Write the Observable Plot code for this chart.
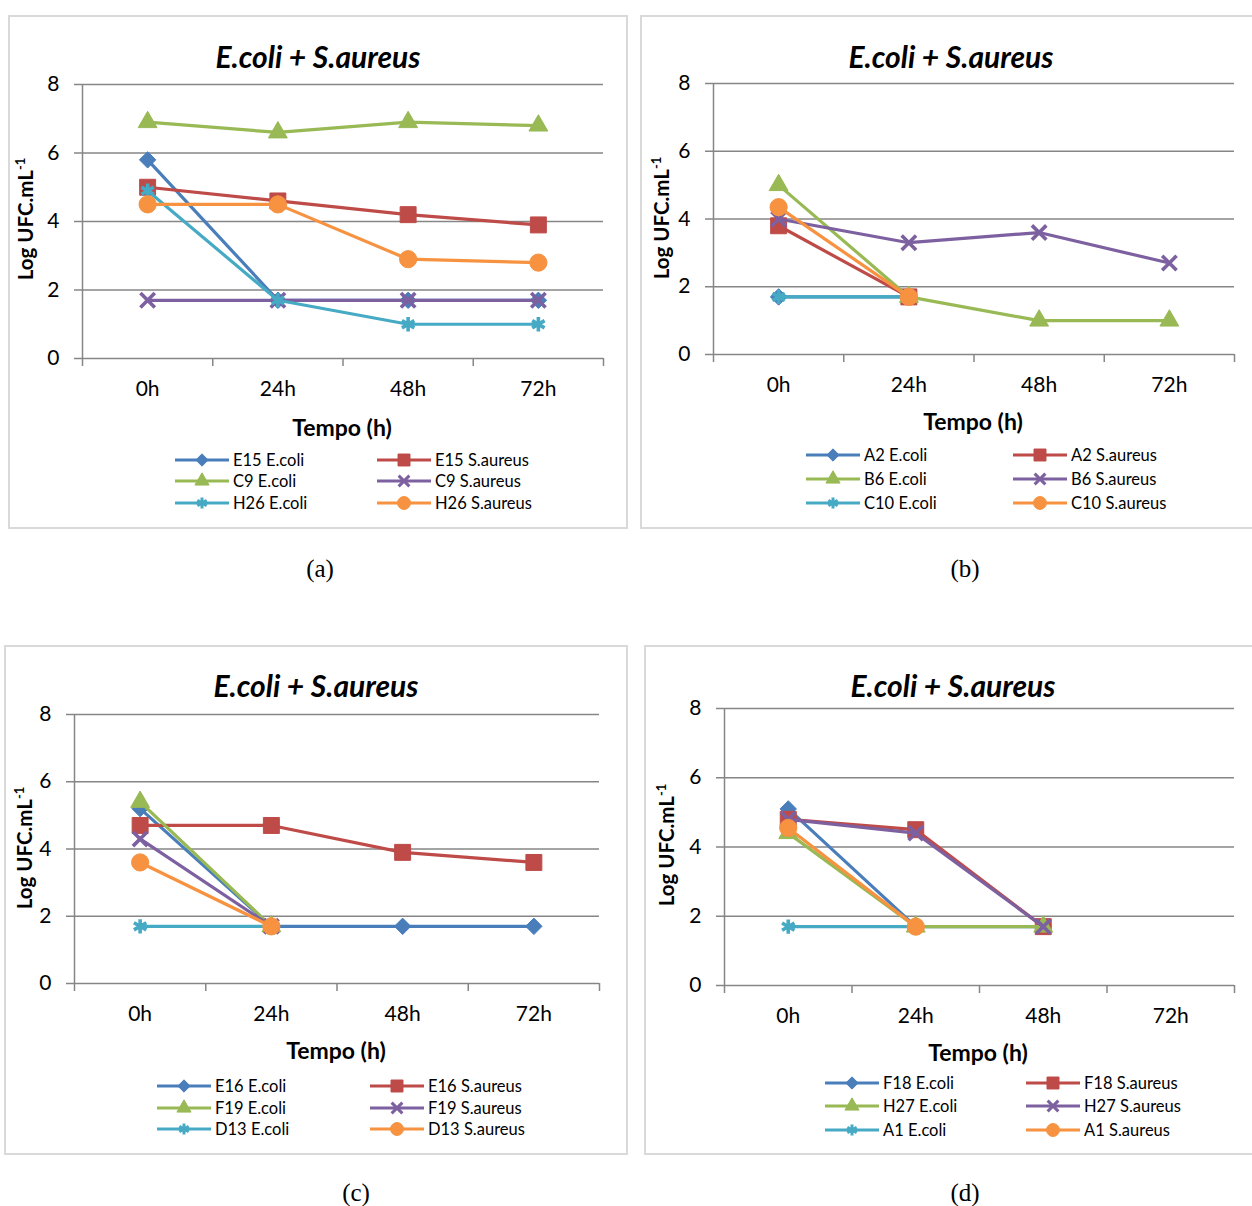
<!DOCTYPE html>
<html><head><meta charset="utf-8">
<script src="https://cdn.jsdelivr.net/npm/d3@7"></script>
<script src="https://cdn.jsdelivr.net/npm/@observablehq/plot@0.6"></script>
<style>
body{margin:0;width:1252px;height:1206px;position:relative;background:#fff;font-family:Lato,sans-serif;overflow:hidden}
.box{position:absolute;border:2px solid #d9d9d9;box-sizing:border-box}
.abs{position:absolute;white-space:nowrap;line-height:1}
.title{font-weight:bold;font-style:italic;font-size:30px;transform:translate(-50%,-50%)}
.ylab{font-weight:bold;font-size:20.5px;transform:translate(-50%,-50%) rotate(-90deg)}
.ylab sup{font-size:13px;vertical-align:8px}
.xlab{font-weight:bold;font-size:23px;transform:translate(-50%,-50%)}
.leg{font-size:16.5px;transform:translateY(-50%)}
.cap{font-family:"Liberation Serif",serif;font-size:25px;transform:translate(-50%,-50%)}
.plot{position:absolute}
</style></head><body><div id="root"></div>
<script>
const times = ["0h","24h","48h","72h"];
const yTicks = [0,2,4,6,8];
const colors = ["#4A7EBB","#BE4B48","#98B954","#7D60A0","#46AAC5","#F69240"];
const symbols = ["diamond2","square","triangle","times","asterisk","circle"];
const radii = [7.4,9,7,6.6,6.8,8.6];
const title = "E.coli + S.aureus";
const xTitle = "Tempo (h)";

const namesA = ["E15 E.coli","E15 S.aureus","C9 E.coli","C9 S.aureus","H26 E.coli","H26 S.aureus"];
const valsA = [[5.8,1.7,1.7,1.7],[5.0,4.6,4.2,3.9],[6.9,6.6,6.9,6.8],[1.7,1.7,1.7,1.7],[4.9,1.7,1.0,1.0],[4.5,4.5,2.9,2.8]];

const namesB = ["A2 E.coli","A2 S.aureus","B6 E.coli","B6 S.aureus","C10 E.coli","C10 S.aureus"];
const valsB = [[1.7,1.7,null,null],[3.8,1.7,null,null],[5.0,1.7,1.0,1.0],[4.0,3.3,3.6,2.7],[1.7,1.7,null,null],[4.35,1.7,null,null]];

const namesC = ["E16 E.coli","E16 S.aureus","F19 E.coli","F19 S.aureus","D13 E.coli","D13 S.aureus"];
const valsC = [[5.2,1.7,1.7,1.7],[4.7,4.7,3.9,3.6],[5.4,1.7,null,null],[4.3,1.7,null,null],[1.7,1.7,null,null],[3.6,1.7,null,null]];

const namesD = ["F18 E.coli","F18 S.aureus","H27 E.coli","H27 S.aureus","A1 E.coli","A1 S.aureus"];
const valsD = [[5.1,1.7,1.7,null],[4.8,4.5,1.7,null],[4.4,1.7,1.7,null],[4.8,4.4,1.7,null],[1.7,1.7,null,null],[4.55,1.7,null,null]];

const panels = [
  {names:namesA, vals:valsA, box:[8,15,620,514], plot:[82,84,603,358], title:[318,56], ylab:[25,219], xlab:[342,427], legY:[460,481,503], legX:[175,377], cap:["(a)",320,568]},
  {names:namesB, vals:valsB, box:[640,15,640,514], plot:[713,83,1234,354], title:[951,56], ylab:[661,218], xlab:[973,421], legY:[455,479,503], legX:[806,1013], cap:["(b)",965,568]},
  {names:namesC, vals:valsC, box:[4,645,624,510], plot:[74,714,599,983], title:[316,685], ylab:[24,848], xlab:[336,1050], legY:[1086,1108,1129], legX:[157,370], cap:["(c)",356,1192]},
  {names:namesD, vals:valsD, box:[644,645,640,510], plot:[724,708,1234,985], title:[953,685], ylab:[666,845], xlab:[978,1052], legY:[1083,1106,1130], legX:[825,1026], cap:["(d)",965,1192]}
];

const grid = "#868686";
const d3sym = {diamond2:d3.symbolDiamond2, square:d3.symbolSquare, triangle:d3.symbolTriangle, times:d3.symbolTimes, asterisk:d3.symbolAsterisk, circle:d3.symbolCircle};
const strokeOnly = s => s === "times" || s === "asterisk";
const root = document.getElementById("root");

function add(cls, html, x, y) {
  const el = document.createElement("div");
  el.className = "abs " + cls;
  el.innerHTML = html;
  el.style.left = x + "px"; el.style.top = y + "px";
  root.appendChild(el);
  return el;
}

for (const p of panels) {
  const box = document.createElement("div");
  box.className = "box";
  box.style.left = p.box[0] + "px"; box.style.top = p.box[1] + "px";
  box.style.width = p.box[2] + "px"; box.style.height = p.box[3] + "px";
  root.appendChild(box);

  const [L, T, R, B] = p.plot;
  const mL = 70, mR = 10, mT = 10, mB = 50;
  const plotH = B - T;
  const marks = [
    Plot.ruleY(yTicks, {y: d => d, stroke: grid, strokeWidth: 1.5, insetLeft: -8}),
    Plot.ruleX([-0.5], {stroke: grid, strokeWidth: 1.5, insetBottom: -8}),
    Plot.ruleX([0.5,1.5,2.5,3.5], {stroke: grid, strokeWidth: 1.5, insetTop: plotH, insetBottom: -8})
  ];
  p.vals.forEach((vals, s) => {
    const data = vals.map((v, i) => ({i, v})).filter(d => d.v != null);
    const so = strokeOnly(symbols[s]);
    marks.push(Plot.line(data, {x: "i", y: "v", stroke: colors[s], strokeWidth: 3.2}));
    marks.push(Plot.dot(data, {x: "i", y: "v", symbol: symbols[s], r: radii[s],
      fill: so ? "none" : colors[s], stroke: colors[s], strokeWidth: so ? 3.6 : 1}));
  });
  const svg = Plot.plot({
    width: R - L + mL + mR, height: plotH + mT + mB,
    marginLeft: mL, marginRight: mR, marginTop: mT, marginBottom: mB,
    style: {fontFamily: "Lato, sans-serif", fontSize: "21px", color: "#000", background: "transparent", overflow: "visible"},
    x: {type: "linear", domain: [-0.5, 3.5], ticks: [0,1,2,3], tickFormat: i => times[i], tickSize: 0, tickPadding: 23, label: null},
    y: {domain: [0, 8], ticks: yTicks, tickSize: 0, tickPadding: 23, label: null},
    marks
  });
  const wrap = document.createElement("div");
  wrap.className = "plot";
  wrap.style.left = (L - mL) + "px"; wrap.style.top = (T - mT) + "px";
  wrap.appendChild(svg);
  root.appendChild(wrap);

  add("title", title, p.title[0], p.title[1]);
  add("ylab", "Log UFC.mL<sup>-1</sup>", p.ylab[0], p.ylab[1]);
  add("xlab", xTitle, p.xlab[0], p.xlab[1]);
  add("cap", p.cap[0], p.cap[1], p.cap[2]);

  p.names.forEach((name, s) => {
    const row = Math.floor(s / 2), col = s % 2;
    const x0 = p.legX[col], y0 = p.legY[row];
    const sym = symbols[s];
    const so = strokeOnly(sym);
    const rr = radii[s] * 0.75;
    const path = d3.symbol(d3sym[sym], Math.PI * rr * rr)();
    const sw = `<svg width="56" height="18" style="position:absolute;left:0;top:50%;transform:translateY(-50%);overflow:visible">
      <line x1="0" x2="54" y1="9" y2="9" stroke="${colors[s]}" stroke-width="3.2"/>
      <path d="${path}" transform="translate(27,9)" fill="${so ? "none" : colors[s]}" stroke="${colors[s]}" stroke-width="${so ? 3 : 1}"/></svg>
      <span style="position:relative;left:58px">${name}</span>`;
    const el = add("leg", sw, x0, y0);
    el.style.height = "18px"; el.style.lineHeight = "18px";
  });
}
</script></body></html>
